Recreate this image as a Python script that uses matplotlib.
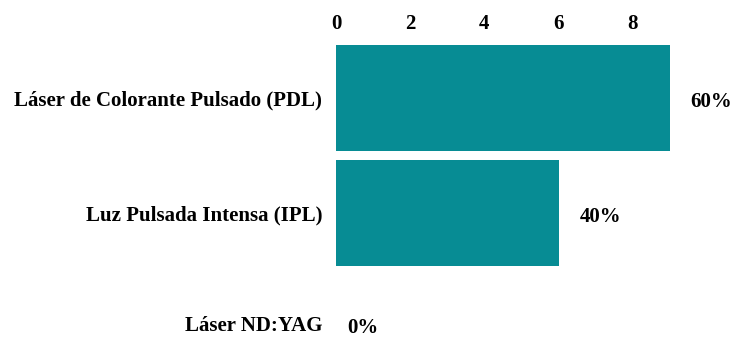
import matplotlib.pyplot as plt
from matplotlib.transforms import ScaledTranslation

# Treatments and counts
treatments = ["Láser de Colorante Pulsado (PDL)", "Luz Pulsada Intensa (IPL)", "Láser ND:YAG"]
counts = [9, 6, 0]
percent_labels = ["60%", "40%", "0%"]

plt.rcParams['font.family'] = ['Liberation Serif', 'DejaVu Serif']
plt.rcParams['font.weight'] = 'bold'

fig = plt.figure(figsize=(7.34, 3.37), dpi=100)
ax = fig.add_axes([336 / 734, 0.0, (707 - 336) / 734, 1 - 40 / 337])

pos = list(range(len(treatments)))
ax.barh(pos, counts, height=0.92, color="#078c94")

for p, c, lab in zip(pos, counts, percent_labels):
    ax.annotate(lab, (c, p), xytext=(15 if c > 0 else 8, -3 if c > 0 else 0),
                textcoords="offset points", ha="left", va="center",
                fontsize=15, fontweight="bold")

ax.set_xlim(0, 10)
ax.set_ylim(2.078, -0.504)
ax.set_xticks([0, 2, 4, 6, 8])
ax.set_yticks(pos)
ax.set_yticklabels(treatments)
ax.xaxis.tick_top()
ax.tick_params(axis="both", length=0, labelsize=15)
ax.tick_params(axis="y", pad=10)
ax.tick_params(axis="x", pad=4)
for lab in ax.get_xticklabels() + ax.get_yticklabels():
    lab.set_fontweight("bold")
for s in ax.spines.values():
    s.set_visible(False)

# keep the last row label inside the figure
last = ax.get_yticklabels()[-1]
last.set_transform(last.get_transform() + ScaledTranslation(0, 3 / 72, fig.dpi_scale_trans))

fig.savefig("out.png", dpi=100)
